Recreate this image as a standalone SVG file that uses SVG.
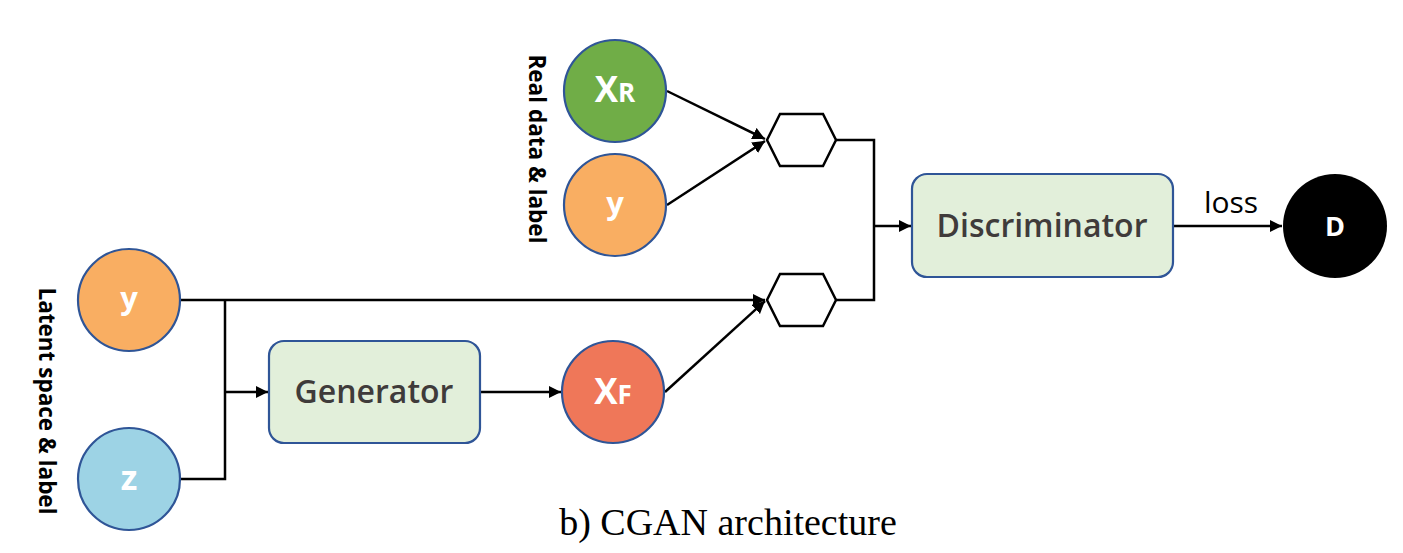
<svg xmlns="http://www.w3.org/2000/svg" width="1403" height="553" viewBox="0 0 1403 553">
<style>
.circ{stroke:#2F5597;stroke-width:2.2}
.box{fill:#E2EFDA;stroke:#2F5597;stroke-width:2.2}
.hex{fill:#fff;stroke:#000;stroke-width:2.5}
.ln{fill:none;stroke:#000;stroke-width:2.5}
.nt{font-family:"Open Sans","DejaVu Sans",sans-serif;font-weight:bold;fill:#fff;text-anchor:middle}
.bt{font-family:"Open Sans","DejaVu Sans",sans-serif;font-weight:600;fill:#3F3B3A;font-size:32px;text-anchor:middle}
.side{font-family:"Open Sans","DejaVu Sans",sans-serif;font-weight:bold;fill:#000;font-size:22.5px;text-anchor:middle}
</style>
<defs>
<marker id="arr" viewBox="0 0 10 10" refX="10" refY="5" markerWidth="5" markerHeight="5" orient="auto" markerUnits="strokeWidth">
<path d="M0,0 L10,5 L0,10 z" fill="#000"/>
</marker>
</defs>
<rect width="1403" height="553" fill="#fff"/>
<g id="connectors">
<line class="ln" x1="667" y1="91" x2="765" y2="139" marker-end="url(#arr)"/>
<line class="ln" x1="667" y1="205" x2="765" y2="141" marker-end="url(#arr)"/>
<polyline class="ln" points="836,140 874,140 874,300 836,300"/>
<line class="ln" x1="874" y1="226" x2="911" y2="226" marker-end="url(#arr)"/>
<line class="ln" x1="1173" y1="226" x2="1282" y2="226" marker-end="url(#arr)"/>
<line class="ln" x1="180" y1="300" x2="765" y2="300" marker-end="url(#arr)"/>
<polyline class="ln" points="180,479 225,479 225,300"/>
<line class="ln" x1="225" y1="392" x2="268" y2="392" marker-end="url(#arr)"/>
<line class="ln" x1="480" y1="392" x2="561" y2="392" marker-end="url(#arr)"/>
<line class="ln" x1="665" y1="392" x2="765" y2="301" marker-end="url(#arr)"/>
</g>
<g id="xr">
<circle class="circ" cx="615" cy="91" r="51" fill="#70AD47"/>
<text class="nt" x="615" y="102" font-size="35">X<tspan font-size="26">R</tspan></text>
</g>
<g id="y-real">
<circle class="circ" cx="615" cy="205" r="51" fill="#F9AE62"/>
<text class="nt" x="615" y="214" font-size="31">y</text>
</g>
<g id="hex-real">
<polygon class="hex" points="767,140 780,114 823,114 836,140 823,166 780,166"/>
</g>
<g id="hex-fake">
<polygon class="hex" points="767,300 780,274 823,274 836,300 823,326 780,326"/>
</g>
<g id="discriminator">
<rect class="box" x="912" y="174" width="261" height="103" rx="15"/>
<text class="bt" x="1042" y="237">Discriminator</text>
</g>
<g id="loss-label">
<text x="1231" y="213" font-family="Open Sans, DejaVu Sans, sans-serif" font-size="30" text-anchor="middle" fill="#000">loss</text>
</g>
<g id="d">
<circle cx="1335" cy="226" r="52" fill="#000"/>
<text class="nt" x="1335" y="236" font-size="27">D</text>
</g>
<g id="y-latent">
<circle class="circ" cx="129" cy="300" r="51" fill="#F9AE62"/>
<text class="nt" x="129" y="309" font-size="31">y</text>
</g>
<g id="z">
<circle class="circ" cx="129" cy="479" r="51" fill="#9DD3E5"/>
<text class="nt" x="129" y="490" font-size="34">z</text>
</g>
<g id="generator">
<rect class="box" x="269" y="341" width="211" height="102" rx="15"/>
<text class="bt" x="374" y="403">Generator</text>
</g>
<g id="xf">
<circle class="circ" cx="613" cy="392" r="51" fill="#EF7759"/>
<text class="nt" x="613" y="404" font-size="35">X<tspan font-size="26">F</tspan></text>
</g>
<g id="side-labels">
<text class="side" transform="translate(529,149) rotate(90)">Real data &amp; label</text>
<text class="side" transform="translate(39,401) rotate(90)">Latent space &amp; label</text>
</g>
<text x="728" y="535" font-family="Liberation Serif, serif" font-size="38" text-anchor="middle" fill="#000">b) CGAN architecture</text>
</svg>
